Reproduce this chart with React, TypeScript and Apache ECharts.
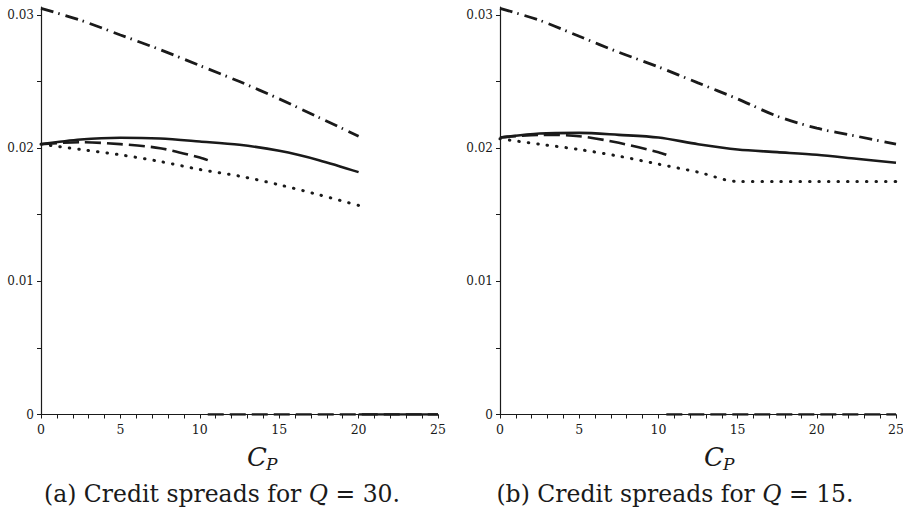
import React, { useEffect, useRef } from "react";
import * as echarts from "echarts";

// C_P sample positions
const cpLeft = [0, 2.5, 5, 7.5, 10, 12.5, 15, 17.5, 20];
const cpRight = [0, 2.5, 5, 7.5, 10, 12.5, 15, 17.5, 20, 22.5, 25];
const cpDashed = [0, 2.5, 5, 7.5, 10, 10.5];

// (a) Q = 30
const q30Solid = [0.0203, 0.02065, 0.02078, 0.02072, 0.0205, 0.02025, 0.0198, 0.0191, 0.0182];
const q30Dashed = [0.0203, 0.02045, 0.0203, 0.0200, 0.0193, 0.0191];
const q30Dotted = [0.0203, 0.0199, 0.0195, 0.0190, 0.0184, 0.0179, 0.01725, 0.0165, 0.0157];
const q30DashDot = [0.0305, 0.0296, 0.0285, 0.0274, 0.0262, 0.0250, 0.0237, 0.0223, 0.0209];
const q30DashedZero = [10.5, 25];
const q30SolidZero = [20, 25];

// (b) Q = 15
const q15Solid = [0.0208, 0.0211, 0.02115, 0.0210, 0.0208, 0.0203, 0.0199, 0.0197, 0.0195, 0.0192, 0.0189];
const q15Dashed = [0.0208, 0.0210, 0.0209, 0.0204, 0.0197, 0.0195];
const q15Dotted = [0.0207, 0.0203, 0.0199, 0.0194, 0.0188, 0.0182, 0.0175, 0.0175, 0.0175, 0.0175, 0.0175];
const q15DashDot = [0.0305, 0.0296, 0.0284, 0.0272, 0.0261, 0.0249, 0.0237, 0.0224, 0.0215, 0.0209, 0.0203];
const q15DashedZero = [10.5, 25];

// ticks
const xLabels = [0, 5, 10, 15, 20, 25];
const xTicks = Array.from({ length: 26 }, (_, i) => i);
const yLabels = [0, 0.01, 0.02, 0.03];
const yTicks = [0, 0.005, 0.01, 0.015, 0.02, 0.025, 0.03];

const captions = ["(a) Credit spreads for ", "(b) Credit spreads for "];
const captionQ = ["30.", "15."];

const INK = "#1a1a1a";
const SERIF = "DejaVu Serif";

const zip = (xs: number[], ys: number[]) => xs.map((x, i) => [x, ys[i]]);
const zeroSeg = (xs: number[]) => xs.map((x) => [x, 0]);

export default function App() {
  const ref = useRef<HTMLDivElement>(null);

  useEffect(() => {
    document.body.style.margin = "0";
    if (!ref.current) return;
    const chart = echarts.init(ref.current, null, { renderer: "svg" });

    const grids = [
      { left: 41, top: 7, width: 397, height: 407.5 },
      { left: 500, top: 7, width: 396, height: 407.5 },
    ];

    const xAxis = grids.map((_, i) => ({
      type: "value",
      gridIndex: i,
      min: 0,
      max: 25,
      interval: 5,
      axisLine: { show: true, lineStyle: { color: INK, width: 1.2 } },
      axisTick: { show: true, customValues: xTicks, length: 4, lineStyle: { color: INK } },
      axisLabel: {
        customValues: xLabels,
        color: INK,
        fontFamily: SERIF,
        fontSize: 12.5,
        margin: 8,
      },
      splitLine: { show: false },
    }));

    const yAxis = grids.map((_, i) => ({
      type: "value",
      gridIndex: i,
      min: 0,
      max: 0.0306,
      axisLine: { show: true, lineStyle: { color: INK, width: 1.2 } },
      axisTick: { show: true, customValues: yTicks, length: 4, lineStyle: { color: INK } },
      axisLabel: {
        customValues: yLabels,
        color: INK,
        fontFamily: SERIF,
        fontSize: 12,
        margin: 7,
        formatter: (v: number) => (v === 0 ? "0" : v.toFixed(2)),
      },
      splitLine: { show: false },
    }));

    const W = 2.6;
    const styles: Record<string, any> = {
      solid: { color: INK, width: W, type: "solid" },
      dashed: { color: INK, width: W, type: [16, 6] },
      dotted: { color: INK, width: 3, type: [0.5, 9], cap: "round" },
      dashdot: { color: INK, width: 2.8, type: [13, 5, 1.5, 6] },
    };

    const mk = (data: number[][], style: string, idx: number, smooth = true) => ({
      type: "line",
      xAxisIndex: idx,
      yAxisIndex: idx,
      data,
      showSymbol: false,
      smooth: smooth ? 0.3 : false,
      lineStyle: styles[style],
      silent: true,
    });

    const series = [
      mk(zip(cpLeft, q30DashDot), "dashdot", 0),
      mk(zip(cpLeft, q30Solid), "solid", 0),
      mk(zip(cpDashed, q30Dashed), "dashed", 0),
      mk(zip(cpLeft, q30Dotted), "dotted", 0),
      mk(zeroSeg(q30DashedZero), "dashed", 0, false),
      mk(zeroSeg(q30SolidZero), "solid", 0, false),
      mk(zip(cpRight, q15DashDot), "dashdot", 1),
      mk(zip(cpRight, q15Solid), "solid", 1),
      mk(zip(cpDashed, q15Dashed), "dashed", 1),
      mk(zip(cpRight, q15Dotted), "dotted", 1),
      mk(zeroSeg(q15DashedZero), "dashed", 1, false),
    ];

    const axisTitle = (cx: number) => [
      {
        type: "text",
        x: cx,
        y: 457,
        style: {
          text: "C",
          fontFamily: SERIF,
          fontStyle: "italic",
          fontSize: 26,
          fill: INK,
          align: "right",
          verticalAlign: "middle",
        },
      },
      {
        type: "text",
        x: cx - 1,
        y: 464,
        style: {
          text: "P",
          fontFamily: SERIF,
          fontStyle: "italic",
          fontSize: 17,
          fill: INK,
          align: "left",
          verticalAlign: "middle",
        },
      },
    ];

    const caption = (cx: number, i: number) => ({
      type: "text",
      x: cx,
      y: 494,
      style: {
        text: `{n|${captions[i]}}{q|Q}{n| = ${captionQ[i]}}`,
        rich: {
          n: { fontFamily: SERIF, fontSize: 23.5, fill: INK },
          q: { fontFamily: SERIF, fontStyle: "italic", fontSize: 23.5, fill: INK },
        },
        align: "center",
        verticalAlign: "middle",
      },
    });

    chart.setOption({
      animation: false,
      backgroundColor: "#ffffff",
      textStyle: { fontFamily: SERIF },
      grid: grids.map((g) => ({ ...g, containLabel: false, outerBoundsMode: "none" })),
      xAxis,
      yAxis,
      series,
      graphic: [
        ...axisTitle(267),
        ...axisTitle(724),
        caption(222, 0),
        caption(675, 1),
      ],
    });

    return () => chart.dispose();
  }, []);

  return <div ref={ref} style={{ width: 903, height: 520 }} />;
}
